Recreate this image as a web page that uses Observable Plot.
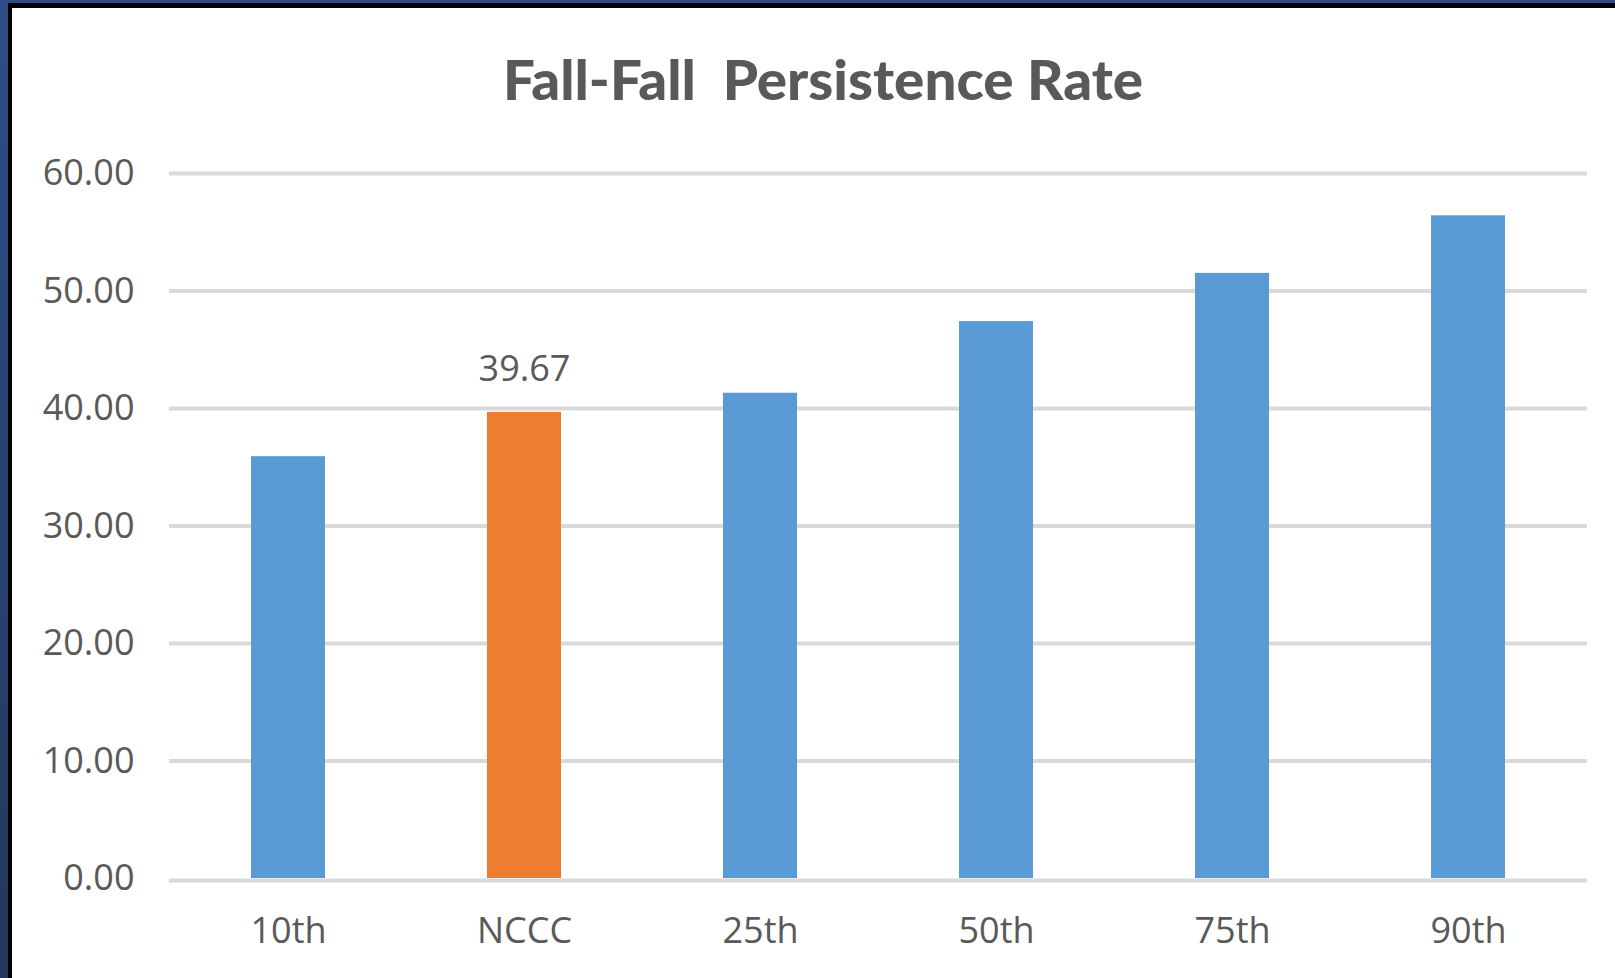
<!DOCTYPE html>
<html>
<head>
<meta charset="utf-8">
<script src="https://cdn.jsdelivr.net/npm/d3@7"></script>
<script src="https://cdn.jsdelivr.net/npm/@observablehq/plot@0.6"></script>
<style>
  html, body { margin: 0; padding: 0; background: #fff; }
  #page { position: relative; width: 1615px; height: 978px; overflow: hidden; background: #fff; }
  #title { position: absolute; left: 0; top: 0; }
  #chart { position: absolute; left: 0; top: 120px; }
  .frame { position: absolute; pointer-events: none; z-index: 10; }
</style>
</head>
<body>
<div id="page">
  <svg id="title" width="1615" height="120">
    <text x="823" y="100" text-anchor="middle" style="white-space:pre" xml:space="preserve" font-family="Lato, 'Open Sans', sans-serif" font-weight="900" font-size="56" fill="#595959" textLength="640" lengthAdjust="spacingAndGlyphs">Fall-Fall  Persistence Rate</text>
  </svg>
  <div id="chart"></div>
  <div class="frame" style="left:0;top:0;width:8px;height:978px;background:linear-gradient(#2c4d85,#23385c);"></div>
  <div class="frame" style="left:0;top:0;width:1615px;height:3px;background:#2c4d85;"></div>
  <div class="frame" style="left:8px;top:3px;width:4px;height:975px;background:#000;"></div>
  <div class="frame" style="left:8px;top:3px;width:1607px;height:5px;background:#000;"></div>
</div>
<script>
const categories = ["10th", "NCCC", "25th", "50th", "75th", "90th"];
const values = [35.9, 39.67, 41.3, 47.4, 51.5, 56.4];
const highlighted = ["NCCC"];
const yTicks = [0, 10, 20, 30, 40, 50, 60];
const labelledValues = [39.67];

const data = categories.map((c, i) => ({category: c, value: values[i], hi: highlighted.includes(c)}));
const labelData = data.filter(d => labelledValues.includes(d.value));

const chart = Plot.plot({
  width: 1615,
  height: 858,
  marginTop: 53,
  marginBottom: 100,
  marginLeft: 169,
  marginRight: 28,
  style: {fontFamily: "'Open Sans', sans-serif", fontSize: "36px", color: "#595959", background: "transparent"},
  x: {domain: categories, paddingInner: 0.687, paddingOuter: 0.3435, label: null, tickSize: 0, tickPadding: 39},
  y: {domain: [0, 60], ticks: yTicks, tickFormat: d => d.toFixed(2), label: null, tickSize: 0, tickPadding: 35},
  marks: [
    Plot.ruleY(yTicks.filter(t => t !== 0), {stroke: "#d9d9d9", strokeWidth: 4}),
    Plot.barY(data, {x: "category", y: "value", fill: d => d.hi ? "#ed7d31" : "#5b9bd5"}),
    Plot.ruleY([0], {stroke: "#d9d9d9", strokeWidth: 4, dy: 2}),
    Plot.text(labelData, {x: "category", y: "value", text: d => d.value.toFixed(2), dy: -43, fill: "#595959", fontSize: 36})
  ]
});
document.getElementById("chart").appendChild(chart);
</script>
</body>
</html>
